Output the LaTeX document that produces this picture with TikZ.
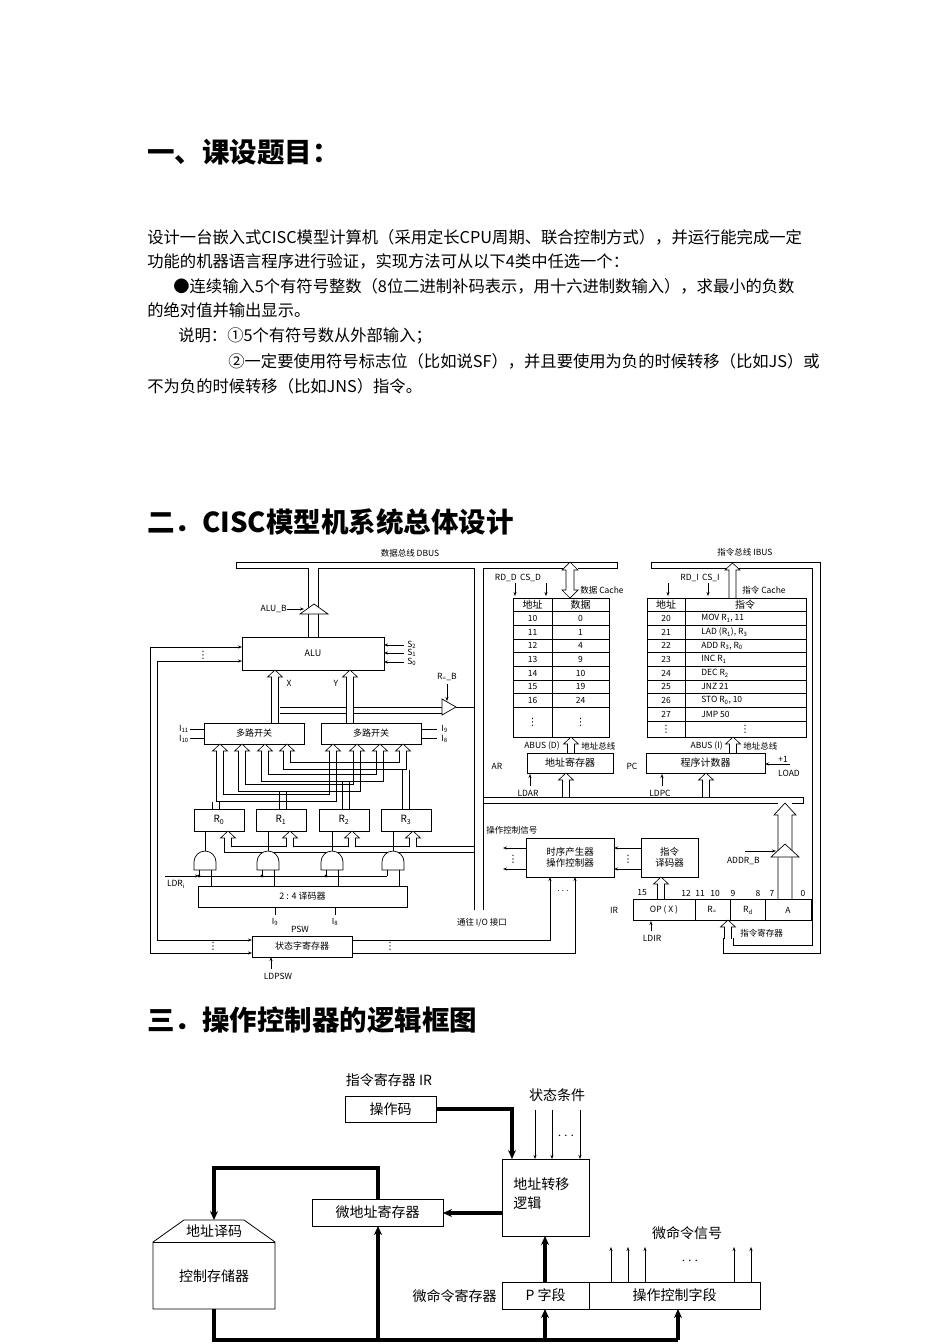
\documentclass[tikz,border=0pt]{standalone}
\usepackage{fontspec}
\setmainfont{Noto Sans CJK SC}
\newfontfamily\dv{DejaVu Sans}
\usetikzlibrary{arrows.meta}
\newcommand\hup[3]{\draw[fill=white,line width=0.6pt] (#1-3.5,#3)--(#1-3.5,#2+7)--(#1-7.5,#2+7)--(#1,#2)--(#1+7.5,#2+7)--(#1+3.5,#2+7)--(#1+3.5,#3);}
\newcommand\vd{{\dv ⋮}}
\begin{document}
\begin{tikzpicture}[x=1pt,y=-1pt,line width=0.7pt,
  box/.style={draw,inner sep=0pt,line width=0.8pt},
  ar/.style={-{Stealth[length=4pt,width=3pt]}},
  wire/.style={line width=0.6pt},
  tiny/.style={font=\fontsize{8.5}{9}\selectfont,inner sep=0pt},
  small/.style={font=\fontsize{10}{11}\selectfont,inner sep=0pt},
  body/.style={font=\fontsize{16.3}{16}\selectfont,anchor=west,inner sep=0pt},
  head/.style={font=\fontsize{27.5}{27}\selectfont\bfseries,anchor=west,inner sep=0pt},
  heavy/.style={line width=3.5pt},
  tar/.style={-{Stealth[length=9pt,width=8pt]}},
  mid/.style={font=\fontsize{14}{14}\selectfont,inner sep=0pt}]
\useasboundingbox (0,0) rectangle (950,1344);
% ---------- text ----------
\node[head] (h1) at (147,152) {一、课设题目：};
\node[body] (t1) at (147,237) {设计一台嵌入式CISC模型计算机（采用定长CPU周期、联合控制方式），并运行能完成一定};
\node[body] (t2) at (147,261) {功能的机器语言程序进行验证，实现方法可从以下4类中任选一个：};
\node[body] (t3) at (173,286) {●连续输入5个有符号整数（8位二进制补码表示，用十六进制数输入），求最小的负数};
\node[body] (t4) at (147,310) {的绝对值并输出显示。};
\node[body] (t5) at (178,336) {说明：①5个有符号数从外部输入；};
\node[body] (t6) at (228,361) {②一定要使用符号标志位（比如说SF），并且要使用为负的时候转移（比如JS）或};
\node[body] (t7) at (147,386) {不为负的时候转移（比如JNS）指令。};
\node[head] (h2) at (147,522) {二．CISC模型机系统总体设计};
\node[head] (h3) at (147,1020) {三．操作控制器的逻辑框图};
% ---------- diagram 1 : left ----------
\node[tiny] (dbus) at (410,553) {数据总线 DBUS};
\draw (236,568)--(236,562)--(617,562)--(617,568)--(578,568);
\draw (563,568)--(483,568)--(483,910);
\draw (308,637)--(308,568)--(236,568);
\draw (318,637)--(318,568)--(474,568)--(474,910);
\draw[fill=white] (300,614)--(314,604)--(328,614)--cycle;
\node[tiny,anchor=east] (alub) at (287,609) {ALU\_B};
\draw[ar] (alub.east)--(304,609);
\node[box,minimum width=142,minimum height=33] (alu) at (313,653.5) {\small ALU};
\draw[ar] (150,647)--(242,647);
\draw[ar] (157,661)--(242,661);
\node[small] (d1) at (203,655) {\vd};
\foreach \y/\s in {645/2,653/1,662/0}{\draw[ar] (404,\y)--(384,\y); \node[tiny,anchor=west] at (407,\y) {S\textsubscript{\s}};}
\node[tiny] (xl) at (289,683) {X};
\node[tiny] (yl) at (336,683) {Y};
\draw (280,707)--(442,707);
\draw (280,713)--(442,713);
\draw[fill=white] (442,699)--(456,707)--(442,715)--cycle;
\draw (456,707)--(474,707);
\node[tiny] (rsb) at (447,677) {R\textsubscript{=}\_B};
\draw[ar] (447,684)--(447,701);
\hup{275}{670}{723}
\hup{350}{670}{723}
\node[box,minimum width=100,minimum height=21] (m1) at (254,733.5) {\small 多路开关};
\node[box,minimum width=100,minimum height=21] (m2) at (371,733.5) {\small 多路开关};
\draw (190,729)--(204,729); \draw (190,738)--(204,738);
\node[tiny,anchor=east] at (189,729) {I\textsubscript{11}};
\node[tiny,anchor=east] at (189,739) {I\textsubscript{10}};
\draw (421,729)--(437,729); \draw (421,738)--(437,738);
\node[tiny,anchor=west] at (441,729) {I\textsubscript{9}};
\node[tiny,anchor=west] at (441,739) {I\textsubscript{8}};
% register to multiplexer wiring (double lines)
\foreach \xl/\xr/\ox/\lv in {220/333/216/798, 242/357/283/788, 265/380/346/778, 287/403/406/766}{
  \draw[wire] (\xl-3.5,752)--(\xl-3.5,\lv+3.5)--(\xr+3.5,\lv+3.5)--(\xr+3.5,752);
  \draw[wire] (\xl+3.5,752)--(\xl+3.5,\lv-3.5)--(\xr-3.5,\lv-3.5)--(\xr-3.5,752);
  \draw[wire] (\ox-3.5,809)--(\ox-3.5,\lv+3.5);
  \draw[wire] (\ox+3.5,809)--(\ox+3.5,\lv+3.5);}
\foreach \x in {220,242,265,287,333,357,380,403}{\hup{\x}{744}{753}}
\foreach \n/\x in {0/219,1/281,2/344,3/406}{\node[box,minimum width=50,minimum height=22,fill=white,small] (r\n) at (\x,820) {R\textsubscript{\n}};}
\draw[wire] (224.5,846.5)--(474,846.5);
\draw[wire] (224.5,846.5)--(224.5,852)--(474,852);
\foreach \x in {228,290,352,413}{\hup{\x}{831}{847}}
\foreach \x in {205,268,332,393}{
  \draw[fill=white] (\x-11,870)--(\x-11,862) arc[start angle=180,end angle=360,radius=11]--(\x+11,870)--cycle;
  \draw (\x,851)--(\x,831);
  \draw (\x+6,870)--(\x+6,886);
  \draw (\x-6,870)--(\x-6,876);}
\draw[ar] (165,876)--(199,876);
\draw (199,876)--(387,876);
\foreach \x in {199,262,326}{\fill (\x,876) circle (1.6);}
\node[tiny] (ldri) at (176,884) {LDR\textsubscript{i}};
\node[box,minimum width=209,minimum height=21] (dec) at (302.5,896.5) {\small 2 : 4 译码器};
\draw (275,907)--(275,915); \draw (335,907)--(335,915);
\node[tiny] at (275,922) {I\textsubscript{9}};
\node[tiny] at (335,922) {I\textsubscript{8}};
\node[box,minimum width=100,minimum height=21] (psw) at (302,946.5) {\small 状态字寄存器};
\node[tiny] at (300,929) {PSW};
\draw[ar] (157,661)--(157,940)--(252,940);
\draw[ar] (150,647)--(150,953)--(252,953);
\node[small] at (213,946) {\vd};
\node[small] at (390,946) {\vd};
\node[tiny] (ldpsw) at (278,976) {LDPSW};
\draw[ar] (271,969)--(271,957);
\draw[ar] (352,940)--(550,940)--(550,877);
\draw[ar] (352,953)--(575,953)--(575,877);
\node[small] at (563,891) {$\cdots$};
\node[tiny] (io) at (482,923) {通往 I/O 接口};
% ---------- diagram 1 : right ----------
\draw[fill=white] (566,570)--(562,570)--(570,562)--(578,570)--(574,570)--(574,590)--(578,590)--(570,598)--(562,590)--(566,590)--cycle;
\node[tiny] at (518,578) {RD\_D\, CS\_D};
\draw[ar] (515,583)--(515,596); \draw[ar] (546,583)--(546,596);
\node[tiny,anchor=west] at (580,590) {数据 Cache};
\draw (513,598) rectangle (609,737); \draw (552,598)--(552,737);
\draw (513,611.5)--(609,611.5);
\node[small] at (532.5,605) {地址}; \node[small] at (580.5,605) {数据};
\foreach \i/\a/\d in {0/10/0,1/11/1,2/12/4,3/13/9,4/14/10,5/15/19,6/16/24}{
  \draw (513,611.5+13.7*\i+13.7)--(609,611.5+13.7*\i+13.7);
  \node[tiny] at (532.5,618.3+13.7*\i) {\a}; \node[tiny] at (580.5,618.3+13.7*\i) {\d};}
\node[small] at (532.5,722) {\vd}; \node[small] at (580.5,722) {\vd};
\node[tiny] at (700,578) {RD\_I\, CS\_I};
\draw[ar] (668,583)--(668,596); \draw[ar] (708,583)--(708,596);
\node[tiny,anchor=west] at (742,590) {指令 Cache};
\node[tiny] (ibus) at (745,552) {指令总线 IBUS};
\draw (728,568)--(651,568)--(651,562)--(820,562)--(820,953)--(723,953)--(723,938);
\draw (737,568)--(812,568)--(812,945)--(733,945)--(733,938);
\hup{728}{920}{939}
\hup{732.5}{563}{598}
\draw (647,598) rectangle (806,737); \draw (685,598)--(685,737);
\draw (647,611.5)--(806,611.5);
\node[small] at (666,605) {地址}; \node[small] at (745,605) {指令};
\foreach \i/\a/\d in {0/20/{MOV R\textsubscript{1}, 11},1/21/{LAD (R\textsubscript{1}), R\textsubscript{3}},2/22/{ADD R\textsubscript{3}, R\textsubscript{0}},3/23/{INC R\textsubscript{1}},4/24/{DEC R\textsubscript{2}},5/25/{JNZ 21},6/26/{STO R\textsubscript{0}, 10},7/27/{JMP 50}}{
  \draw (647,611.5+13.7*\i+13.7)--(806,611.5+13.7*\i+13.7);
  \node[tiny] at (666,618.3+13.7*\i) {\a}; \node[tiny,anchor=west] at (701,618.3+13.7*\i) {\d};}
\node[small] at (666,729) {\vd}; \node[small] at (745,729) {\vd};
\hup{571}{737}{753}
\hup{733}{737}{753}
\node[tiny,anchor=east] at (560,746) {ABUS (D)};
\node[tiny,anchor=west] at (581,746) {地址总线};
\node[tiny,anchor=east] at (723,746) {ABUS (I)};
\node[tiny,anchor=west] at (743,746) {地址总线};
\node[box,minimum width=86,minimum height=20,small] (ar) at (570,763) {地址寄存器};
\node[box,minimum width=119,minimum height=20,small] (pc) at (705.5,763) {程序计数器};
\node[tiny] at (497,766) {AR};
\node[tiny] at (632,766) {PC};
\node[tiny] at (783,759) {+1};
\draw[ar] (790,764)--(765,764);
\node[tiny] at (789,773) {LOAD};
\node[tiny] (ldar) at (528,793) {LDAR};
\draw[ar] (530,786)--(530,774);
\node[tiny] (ldpc) at (660,793) {LDPC};
\draw[ar] (662,786)--(662,774);
\draw (483,797)--(803,797)--(803,803)--(792,803);
\draw (778,803)--(483,803);
\hup{566}{773}{797}
\hup{706}{773}{797}
\draw[fill=white] (778,899)--(778,815)--(774,815)--(785,803)--(796,815)--(792,815)--(792,899);
\draw[fill=white] (771,857)--(785,844)--(799,857)--cycle;
\node[tiny,anchor=east] at (760,861) {ADDR\_B};
\draw[ar] (745,851)--(776,851);
\node[tiny,anchor=west] at (486,830) {操作控制信号};
\node[box,minimum width=88,minimum height=39,align=center,font=\fontsize{9.5}{11}\selectfont] (tim) at (570,857.5) {时序产生器\\操作控制器};
\node[box,minimum width=57,minimum height=39,align=center,font=\fontsize{9.5}{11}\selectfont] (idec) at (669.5,857.5) {指令\\译码器};
\draw[ar] (526,848)--(503,848);
\draw[ar] (526,869)--(503,869);
\node[small] at (513,859) {\vd};
\draw[ar] (641,848)--(614,848);
\draw[ar] (641,869)--(614,869);
\node[small] at (628,859) {\vd};
\hup{661}{877}{899}
\draw (633,899) rectangle (811,920);
\foreach \x in {695,730,765}{\draw (\x,899)--(\x,920);}
\node[tiny] at (664,910) {OP ( X )};
\node[tiny] at (712,910) {R\textsubscript{=}};
\node[tiny] at (748,910) {R\textsubscript{d}};
\node[tiny] at (788,910) {A};
\foreach \x/\b in {642/15,686/12,700/11,715/10,733/9,758/8,772/7,803/0}{\node[tiny] at (\x,893) {\b};}
\node[tiny] at (614,910) {IR};
\node[tiny] (ldir) at (652,938) {LDIR};
\draw[ar] (651,931)--(651,921);
\node[tiny,anchor=west] at (740,933) {指令寄存器};
% ---------- diagram 2 ----------
\node[mid] (irl) at (389,1080) {指令寄存器 IR};
\node[box,minimum width=91,minimum height=26,mid] (opc) at (390.5,1109) {操作码};
\node[box,minimum width=87,minimum height=77] (atl) at (545.5,1197.5) {};
\node[mid,anchor=west,align=left,font=\fontsize{14}{19}\selectfont] at (513,1194) {地址转移\\逻辑};
\draw[heavy,tar] (opc.east)--(512,1109)--(512,1159);
\node[mid] (cond) at (557,1095) {状态条件};
\foreach \x in {535,552,580}{\draw[ar] (\x,1110)--(\x,1159);}
\node[mid] at (566,1136) {$\cdots$};
\node[box,minimum width=131,minimum height=27,mid] (mar) at (377.5,1212.5) {微地址寄存器};
\draw[heavy,tar] (502,1213)--(443,1213);
\draw[line width=0.8pt] (153,1242)--(184,1220)--(244,1220)--(275,1242)--(275,1309)--(153,1309)--cycle;
\draw[line width=0.8pt] (153,1242)--(275,1242);
\coordinate (cs) at (214,1220);
\node[mid] (adec) at (214,1231) {地址译码};
\node[mid] (cstore) at (214,1276) {控制存储器};
\draw[heavy,tar] (378,1199)--(378,1168)--(214,1168)--(cs);
\node[box,minimum width=87,minimum height=27,mid] (pf) at (545.5,1295.5) {P 字段};
\node[box,minimum width=171,minimum height=27,mid] (of) at (674.5,1295.5) {操作控制字段};
\node[mid,anchor=east] (mir) at (497,1296) {微命令寄存器};
\draw[heavy,tar] (545,1282)--(545,1236);
\foreach \x in {611,628,645,734,751}{\draw[ar] (\x,1282)--(\x,1247);}
\node[mid] at (690,1261) {$\cdots$};
\node[mid] (msig) at (687,1233) {微命令信号};
\draw[heavy] (214,1309)--(214,1340)--(678,1340);
\draw[heavy,tar] (378,1340)--(378,1226);
\draw[heavy,tar] (545,1340)--(545,1309);
\draw[heavy,tar] (678,1340)--(678,1309);
\end{tikzpicture}
\end{document}
